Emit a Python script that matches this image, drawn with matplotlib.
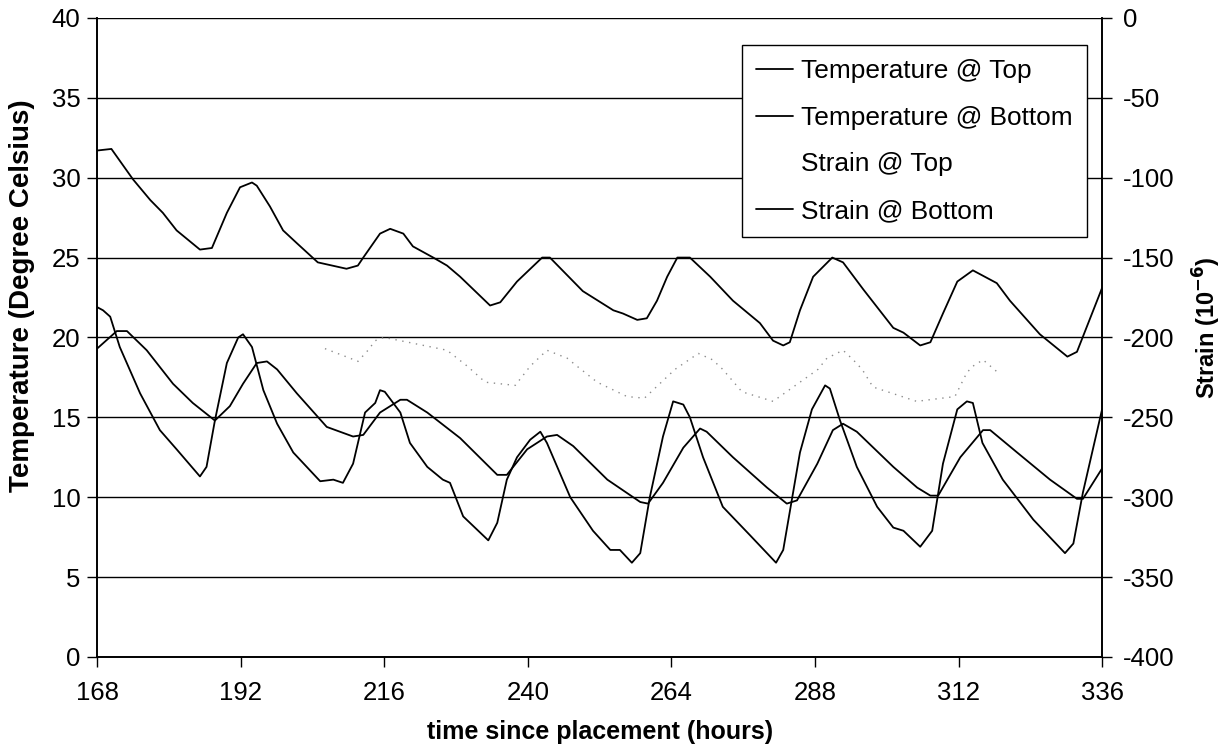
import matplotlib
matplotlib.use("Agg")
import matplotlib.pyplot as plt
import matplotlib.lines as mlines

plt.rcParams['font.family'] = ['Liberation Sans', 'DejaVu Sans']
plt.rcParams['axes.unicode_minus'] = False

# time (hours) and temperature at top of slab
t_top = [168, 169, 170.2, 171.8, 175.2, 178.5, 181.3, 185.2, 186.3, 187.7, 189.7, 191.6, 192.4,
         193.9, 195.8, 198.1, 200.8, 205.3, 207.5, 209.1, 210.8, 212.8, 214.5, 215.3, 216.1,
         218.7, 220.3, 223.2, 225.8, 227, 229.2, 233.4, 234.9, 236.5, 238.2, 240.4, 242.1,
         243.2, 247.1, 250.9, 253.8, 255.4, 257.4, 258.8, 260.4, 262.6, 264.3, 266, 267.1,
         269.3, 272.6, 277.2, 281.5, 282.7, 285.5, 287.5, 289.7, 290.5, 292.2, 295, 298.4,
         301.1, 302.8, 305.6, 307.6, 309.4, 311.8, 313.4, 314.4, 316, 319.4, 324.5, 329.8,
         331.2, 332.8, 336]
temp_top = [21.9, 21.7, 21.3, 19.4, 16.5, 14.2, 13.0, 11.3, 11.9, 14.8, 18.4, 20.0, 20.2,
            19.4, 16.7, 14.6, 12.8, 11.0, 11.1, 10.9, 12.1, 15.3, 15.9, 16.7, 16.6,
            15.3, 13.4, 11.9, 11.1, 10.9, 8.8, 7.3, 8.4, 11.1, 12.5, 13.6, 14.1,
            13.4, 10.0, 7.9, 6.7, 6.7, 5.9, 6.5, 10.0, 13.8, 16.0, 15.8, 15.0,
            12.5, 9.4, 7.6, 5.9, 6.7, 12.8, 15.5, 17.0, 16.8, 14.8, 11.9, 9.4,
            8.1, 7.9, 6.9, 7.9, 12.1, 15.5, 16.0, 15.9, 13.4, 11.1, 8.6, 6.5,
            7.1, 10.3, 15.5]

# temperature at bottom of slab
t_bot = [168, 171.3, 173, 176.3, 180.7, 184, 187.7, 190.2, 192.4, 194.7, 196.4, 198.1, 201.4,
         206.4, 210.8, 212.5, 215.3, 218.7, 219.8, 223.2, 228.7, 234.9, 236.5, 239.9, 243.2,
         244.9, 247.6, 253.3, 258.8, 260.1, 262.6, 266, 268.8, 269.9, 274.3, 280, 283.3, 285,
         288.4, 291, 292.7, 295, 301.1, 305.1, 307.3, 308.6, 312.3, 316.1, 317.3, 321.8,
         327.3, 331.8, 332.8, 336]
temp_bot = [19.3, 20.4, 20.4, 19.2, 17.1, 15.9, 14.8, 15.7, 17.1, 18.4, 18.5, 18.0, 16.5,
            14.4, 13.8, 13.9, 15.3, 16.1, 16.1, 15.3, 13.7, 11.4, 11.4, 13.0, 13.8,
            13.9, 13.2, 11.1, 9.7, 9.6, 10.9, 13.1, 14.3, 14.1, 12.5, 10.6, 9.6, 9.8,
            12.1, 14.2, 14.6, 14.1, 11.9, 10.6, 10.1, 10.1, 12.5, 14.2, 14.2, 12.8,
            11.1, 9.9, 9.9, 11.8]

# strain at top (very faint in original)
t_stop = [206.1, 210.3, 211.6, 213.3, 214.5, 216, 220, 226.5, 229.9, 232.9, 237.9, 240.4,
          243.2, 246.6, 247.9, 251.6, 256.6, 259.5, 264.6, 268.5, 270.9, 272.6, 275.8, 281,
          288.5, 290, 292.7, 294.4, 295.9, 297.7, 305, 311.4, 313.4, 314.4, 316.1, 318.6]
strain_top = [-207, -213, -215, -208, -202, -200, -203, -208, -218, -228, -230, -218,
              -208, -213, -217, -228, -237, -238, -220, -210, -214, -220, -234, -240,
              -220, -213, -208, -214, -220, -231, -240, -237, -222, -218, -214, -222]

# strain at bottom
t_sbot = [168, 170.4, 174, 176.9, 179, 181.3, 185.2, 187.2, 189.7, 191.9, 193.9, 194.7, 196.9,
          199.1, 201.4, 204.9, 209.7, 211.6, 212.5, 215.3, 217, 219.2, 220.8, 224.2, 226.5,
          228.7, 233.7, 235.4, 238.2, 242.4, 243.7, 249.2, 254.3, 255.9, 258.3, 259.9, 261.6,
          263.3, 265, 267.1, 270.5, 274.3, 278.8, 281, 282.7, 283.8, 285.5, 287.7, 290.9,
          292.7, 296.1, 301.1, 302.8, 305.6, 307.3, 309.4, 311.8, 314.4, 318.4, 320.6, 325.6,
          330.2, 331.8, 336]
strain_bot = [-83, -82, -101, -114, -122, -133, -145, -144, -122, -106, -103, -105, -118,
              -133, -141, -153, -157, -155, -150, -135, -132, -135, -143, -150, -155,
              -162, -180, -178, -165, -150, -150, -171, -183, -185, -189, -188, -177,
              -162, -150, -150, -162, -177, -191, -202, -205, -203, -183, -162, -150,
              -153, -170, -194, -197, -205, -203, -185, -165, -158, -166, -177, -198,
              -212, -209, -169]

labels = ["Temperature @ Top", "Temperature @ Bottom", "Strain @ Top", "Strain @ Bottom"]

fig = plt.figure(figsize=(12.3, 7.47), dpi=100)
ax = fig.add_axes([0.0789, 0.1205, 0.8171, 0.8555])
ax2 = ax.twinx()

kw = dict(color="black", lw=1.3, solid_joinstyle="round", solid_capstyle="round")
l1, = ax.plot(t_top, temp_top, **kw)
l2, = ax.plot(t_bot, temp_bot, **kw)
l3, = ax2.plot(t_stop, strain_top, color="0.55", lw=1.0, linestyle=(0, (1, 4)))
l4, = ax2.plot(t_sbot, strain_bot, **kw)

ax.set_xlim(168, 336)
ax.set_ylim(0, 40)
ax2.set_ylim(-400, 0)
ax.set_xticks(range(168, 337, 24))
ax.set_yticks(range(0, 41, 5))
ax2.set_yticks(range(-400, 1, 50))
ax.yaxis.grid(True, color="black", lw=1.0)
ax.set_axisbelow(True)

for a in (ax, ax2):
    a.tick_params(direction="out", length=7, width=1, labelsize=18.5)
    for s in a.spines.values():
        s.set_linewidth(1.2)
    a.spines["top"].set_visible(False)
ax.tick_params(axis="x", pad=10)
ax.tick_params(axis="y", pad=5)
ax2.tick_params(axis="y", pad=8)

ax.set_xlabel("time since placement (hours)", fontsize=18, fontweight="bold")
ax.xaxis.set_label_coords(0.5, -0.098)
ax.set_ylabel("Temperature (Degree Celsius)", fontsize=20, fontweight="bold")
ax.yaxis.set_label_coords(-0.062, 0.565)
ax2.set_ylabel(r"Strain (10$^{\mathbf{-6}}$)", fontsize=17, fontweight="bold")
ax2.yaxis.set_label_coords(1.088, 0.515)

h3 = mlines.Line2D([], [], color="white", lw=1.3)
leg = ax2.legend([l1, l2, h3, l4], labels,
                 loc="upper right", bbox_to_anchor=(0.985, 0.958), fontsize=18.9,
                 frameon=True, fancybox=False, edgecolor="black", framealpha=1,
                 handlelength=1.4, handletextpad=0.3, labelspacing=0.86,
                 borderpad=0.55, borderaxespad=0)
leg.get_frame().set_linewidth(1.0)

fig.savefig("out.png", dpi=100)
